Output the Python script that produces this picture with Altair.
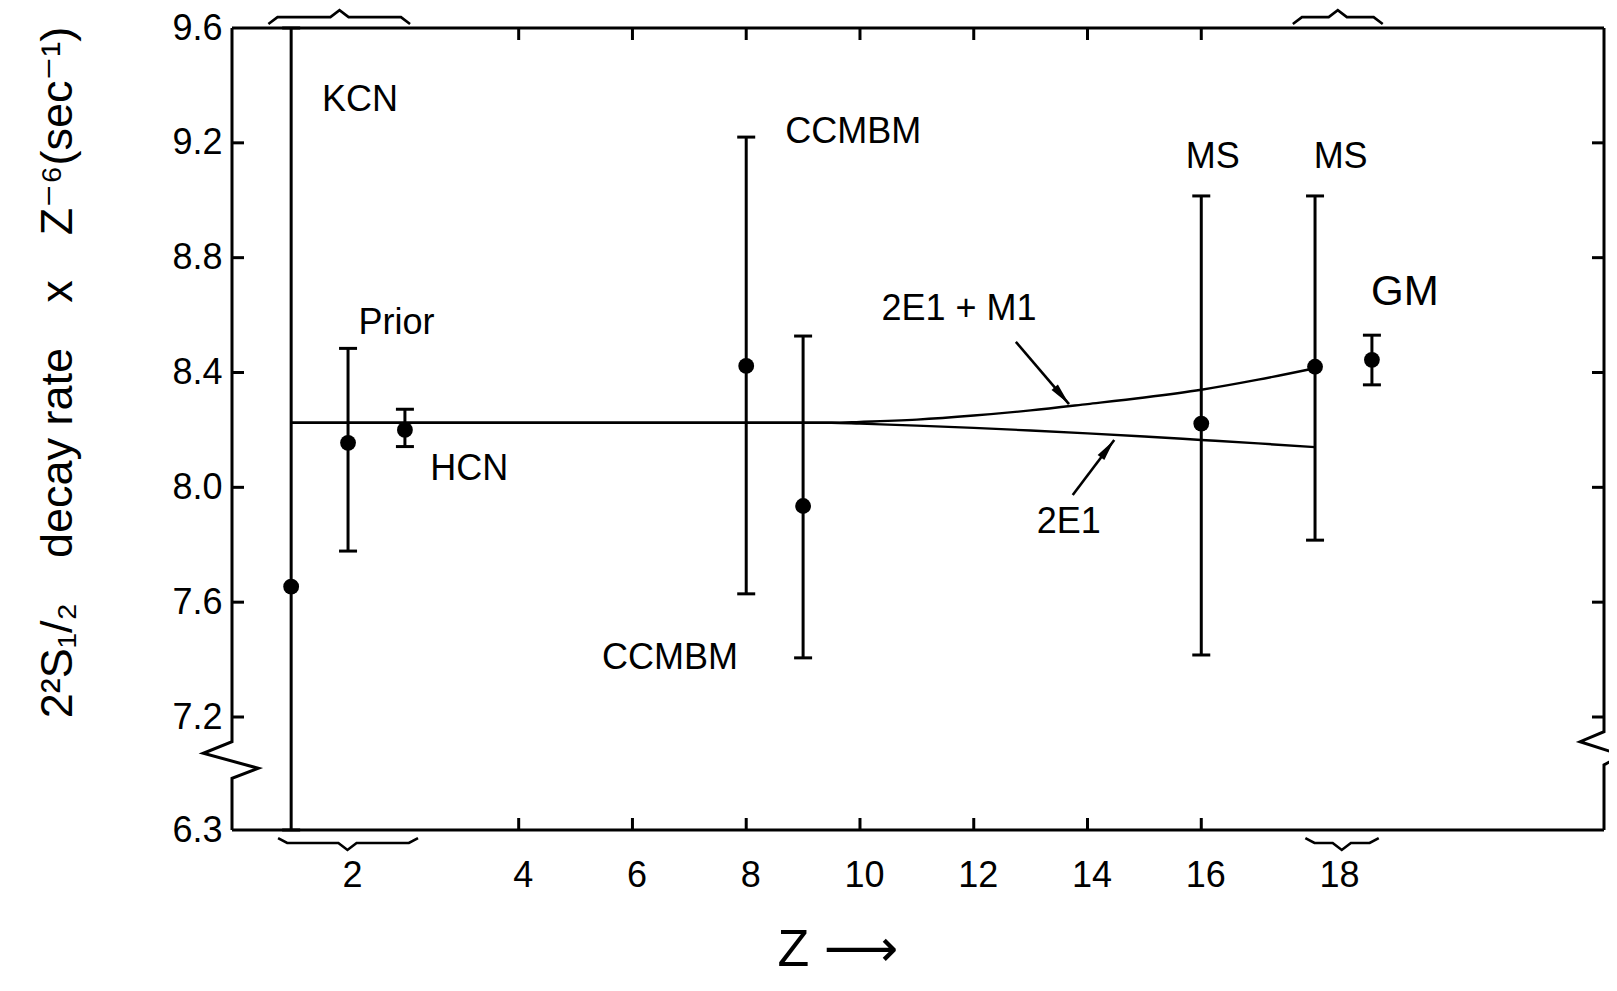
import json
import altair as alt
import pandas as pd

# ---------------- data ----------------
source = ["KCN", "Prior", "HCN", "CCMBM", "CCMBM", "MS", "MS", "GM"]
z_plot = [0, 1, 2, 8, 9, 16, 18, 19]
rate = [7.654, 8.155, 8.20, 8.423, 7.935, 8.222, 8.42, 8.444]
rate_lo = [6.3, 7.778, 8.142, 7.629, 7.406, 7.416, 7.816, 8.357]
rate_hi = [9.6, 8.484, 8.272, 9.22, 8.527, 9.015, 9.015, 8.53]

curve_z = [0, 2, 4, 6, 8, 9.5, 10, 11, 12, 13, 14, 15, 16, 17, 18]
curve_2e1_m1 = [8.225, 8.225, 8.225, 8.225, 8.225, 8.225, 8.228, 8.236,
                8.25, 8.268, 8.29, 8.313, 8.34, 8.375, 8.415]
curve_2e1 = [8.225, 8.225, 8.225, 8.225, 8.225, 8.225, 8.222, 8.215,
             8.207, 8.198, 8.188, 8.177, 8.165, 8.153, 8.14]

x_tick_values = [4, 6, 8, 10, 12, 14, 16]
x_label_values = [1, 4, 6, 8, 10, 12, 14, 16, 18.35]
x_label_text = ["2", "4", "6", "8", "10", "12", "14", "16", "18"]
y_tick_values = [6.3, 7.2, 7.6, 8.0, 8.4, 8.8, 9.2, 9.6]
y_inner_ticks = [7.2, 7.6, 8.0, 8.4, 8.8, 9.2]

ann_text = ["KCN", "Prior", "HCN", "CCMBM", "CCMBM", "MS", "MS", "2E1 + M1", "2E1"]
ann_z = [1.21, 1.85, 3.13, 9.88, 6.66, 16.2, 18.45, 11.74, 13.67]
ann_v = [9.35, 8.573, 8.064, 9.238, 7.406, 9.151, 9.151, 8.622, 7.879]
gm_text = ["GM"]
gm_z = [19.58]
gm_v = [8.68]

arrow_z0 = [12.74, 13.74]
arrow_v0 = [8.507, 7.973]
arrow_z1 = [13.675, 14.47]
arrow_v1 = [8.29, 8.165]
arrow_angle = [139.5, 37]

# braces: (start, centre, end) in Z units
brace_top = [(-0.40, 0.85, 2.09), (17.61, 18.40, 19.19)]
brace_bottom = [(-0.23, 0.99, 2.23), (17.83, 18.47, 19.12)]

Z_MIN, Z_MAX = -1.04, 23.08
V_MIN, V_BREAK, V_MAX = 6.3, 7.2, 9.6

# axis-break zig-zags (data units)
left_frame_z = [Z_MIN, Z_MIN, -1.545, -0.578, Z_MIN, Z_MIN]
left_frame_v = [V_MAX, 7.003, 6.911, 6.792, 6.712, V_MIN]
right_frame_z = [Z_MAX, Z_MAX, 22.66, 23.39, Z_MAX, Z_MAX]
right_frame_v = [V_MAX, 7.083, 7.003, 6.897, 6.818, V_MIN]

FONT = "Liberation Sans, DejaVu Sans, sans-serif"
GAP = "\u2002\u2002"
Y_TITLE = f"2²S₁/₂{GAP}decay rate{GAP}x{GAP}Z⁻⁶(sec⁻¹)"

# ---------------- tables ----------------
pts = pd.DataFrame({"src": source, "z": z_plot, "v": rate,
                    "lo": rate_lo, "hi": rate_hi})
curves = pd.concat([
    pd.DataFrame({"z": curve_z, "v": curve_2e1_m1, "curve": "2E1 + M1",
                  "o": range(len(curve_z))}),
    pd.DataFrame({"z": curve_z, "v": curve_2e1, "curve": "2E1",
                  "o": range(len(curve_z))}),
])
ann = pd.DataFrame({"t": ann_text, "z": ann_z, "v": ann_v})
gm = pd.DataFrame({"t": gm_text, "z": gm_z, "v": gm_v})
arrows = pd.DataFrame({"z": arrow_z0, "v": arrow_v0, "z2": arrow_z1,
                       "v2": arrow_v1, "ang": arrow_angle})

frame_rows = []
for i, (z, v) in enumerate(zip(left_frame_z, left_frame_v)):
    frame_rows.append({"seg": "left", "o": i, "z": z, "v": v})
for i, (z, v) in enumerate(zip(right_frame_z, right_frame_v)):
    frame_rows.append({"seg": "right", "o": i, "z": z, "v": v})
frame_rows += [{"seg": "top", "o": 0, "z": Z_MIN, "v": V_MAX},
               {"seg": "top", "o": 1, "z": Z_MAX, "v": V_MAX},
               {"seg": "bottom", "o": 0, "z": Z_MIN, "v": V_MIN},
               {"seg": "bottom", "o": 1, "z": Z_MAX, "v": V_MIN}]
frame = pd.DataFrame(frame_rows)

brace_rows = []
e = 0.16
for k, (a, c, b) in enumerate(brace_top):
    yb, yt, yp = 9.638, 9.614, 9.662
    for i, (z, v) in enumerate([(a, yt), (a + e, yb), (c - e, yb), (c, yp),
                                (c + e, yb), (b - e, yb), (b, yt)]):
        brace_rows.append({"b": f"t{k}", "o": i, "z": z, "v": v})
for k, (a, c, b) in enumerate(brace_bottom):
    yb, yt, yp = 6.197, 6.236, 6.141
    for i, (z, v) in enumerate([(a, yt), (a + e, yb), (c - e, yb), (c, yp),
                                (c + e, yb), (b - e, yb), (b, yt)]):
        brace_rows.append({"b": f"b{k}", "o": i, "z": z, "v": v})
braces = pd.DataFrame(brace_rows)

xt = pd.DataFrame({"z": x_tick_values})
yt = pd.DataFrame({"v": y_inner_ticks})

# ---------------- encodings ----------------
label_expr = (f"{json.dumps(x_label_text)}"
              f"[indexof({json.dumps(x_label_values)}, datum.value)]")

X_MAIN = alt.X(
    "z:Q",
    scale=alt.Scale(domain=[Z_MIN, Z_MAX], nice=False, zero=False),
    axis=alt.Axis(values=x_label_values, labelExpr=label_expr, ticks=False,
                  tickSize=0, domain=False, grid=False, labelPadding=28,
                  labelFontSize=36, labelFlush=False, labelOverlap=False,
                  labelOffset=4,
                  title="Z ⟶", titleFontSize=52, titleFontWeight="normal",
                  titleAlign="left", titleX=545, titleY=135,
                  titleBaseline="alphabetic"),
)
Y_MAIN = alt.Y(
    "v:Q",
    scale=alt.Scale(domain=[V_MIN, V_BREAK, V_MAX], range=[802, 689, 0],
                    nice=False, zero=False),
    axis=alt.Axis(values=y_tick_values, format=".1f", ticks=False, tickSize=0,
                  domain=False, grid=False, labelPadding=10, labelFontSize=36,
                  labelFlush=False, labelOverlap=False,
                  title=Y_TITLE,
                  titleFontSize=45, titleFontWeight="normal", titleAngle=270,
                  titleAlign="center", titleBaseline="middle",
                  titleX=-175, titleY=344),
)
X = alt.X("z:Q")
Y = alt.Y("v:Q")

points = alt.Chart(pts).mark_circle(size=250, color="black", opacity=1).encode(
    x=X_MAIN, y=Y_MAIN)
bars = alt.Chart(pts).mark_rule(color="black", strokeWidth=3).encode(
    x=X, y=alt.Y("lo:Q"), y2="hi:Q")
cap_lo = alt.Chart(pts).mark_tick(orient="horizontal", size=18, thickness=3,
                                  color="black", opacity=1).encode(
    x=X, y=alt.Y("lo:Q"))
cap_hi = alt.Chart(pts).mark_tick(orient="horizontal", size=18, thickness=3,
                                  color="black", opacity=1).encode(
    x=X, y=alt.Y("hi:Q"))

theory = alt.Chart(curves).mark_line(color="black", strokeWidth=2.4,
                                     interpolate="monotone").encode(
    x=X, y=Y, detail="curve:N", order="o:Q")

frame_l = alt.Chart(frame).mark_line(color="black", strokeWidth=3,
                                     strokeJoin="miter").encode(
    x=X, y=Y, detail="seg:N", order="o:Q")
brace_l = alt.Chart(braces).mark_line(color="black", strokeWidth=2.6).encode(
    x=X, y=Y, detail="b:N", order="o:Q")

tick_bottom = alt.Chart(xt).mark_rule(color="black", strokeWidth=3,
                                      y2Offset=-12).encode(
    x=X, y=alt.YDatum(V_MIN), y2=alt.Y2Datum(V_MIN))
tick_top = alt.Chart(xt).mark_rule(color="black", strokeWidth=3,
                                   y2Offset=12).encode(
    x=X, y=alt.YDatum(V_MAX), y2=alt.Y2Datum(V_MAX))
tick_left = alt.Chart(yt).mark_rule(color="black", strokeWidth=3,
                                    x2Offset=12).encode(
    y=Y, x=alt.XDatum(Z_MIN), x2=alt.X2Datum(Z_MIN))
tick_right = alt.Chart(yt).mark_rule(color="black", strokeWidth=3,
                                     x2Offset=-12).encode(
    y=Y, x=alt.XDatum(Z_MAX), x2=alt.X2Datum(Z_MAX))

labels = alt.Chart(ann).mark_text(font=FONT, fontSize=36, color="black",
                                  align="center", baseline="middle").encode(
    x=X, y=Y, text="t:N")
gm_label = alt.Chart(gm).mark_text(font=FONT, fontSize=42, color="black",
                                   align="center", baseline="middle").encode(
    x=X, y=Y, text="t:N")

arrow_lines = alt.Chart(arrows).mark_rule(color="black", strokeWidth=2.6).encode(
    x=X, y=Y, x2="z2:Q", y2="v2:Q")
arrow_heads = alt.Chart(arrows).mark_point(
    shape="M0,0L0.34,1.8L-0.34,1.8Z", filled=True, color="black", opacity=1,
    size=600).encode(
    x=alt.X("z2:Q"), y=alt.Y("v2:Q"),
    angle=alt.Angle("ang:Q", scale=None))

chart = alt.layer(
    points, bars, cap_lo, cap_hi, theory, frame_l, brace_l,
    tick_bottom, tick_top, tick_left, tick_right,
    labels, gm_label, arrow_lines, arrow_heads,
).properties(
    width=1372, height=802,
    autosize=alt.AutoSizeParams(type="none"),
    padding={"left": 224, "top": 20, "right": 5, "bottom": 150},
    background="white",
).configure_view(strokeWidth=0).configure_axis(
    labelFont=FONT, titleFont=FONT, labelColor="black", titleColor="black"
)

chart.save("out.html", embed_options={"renderer": "svg", "actions": False})
